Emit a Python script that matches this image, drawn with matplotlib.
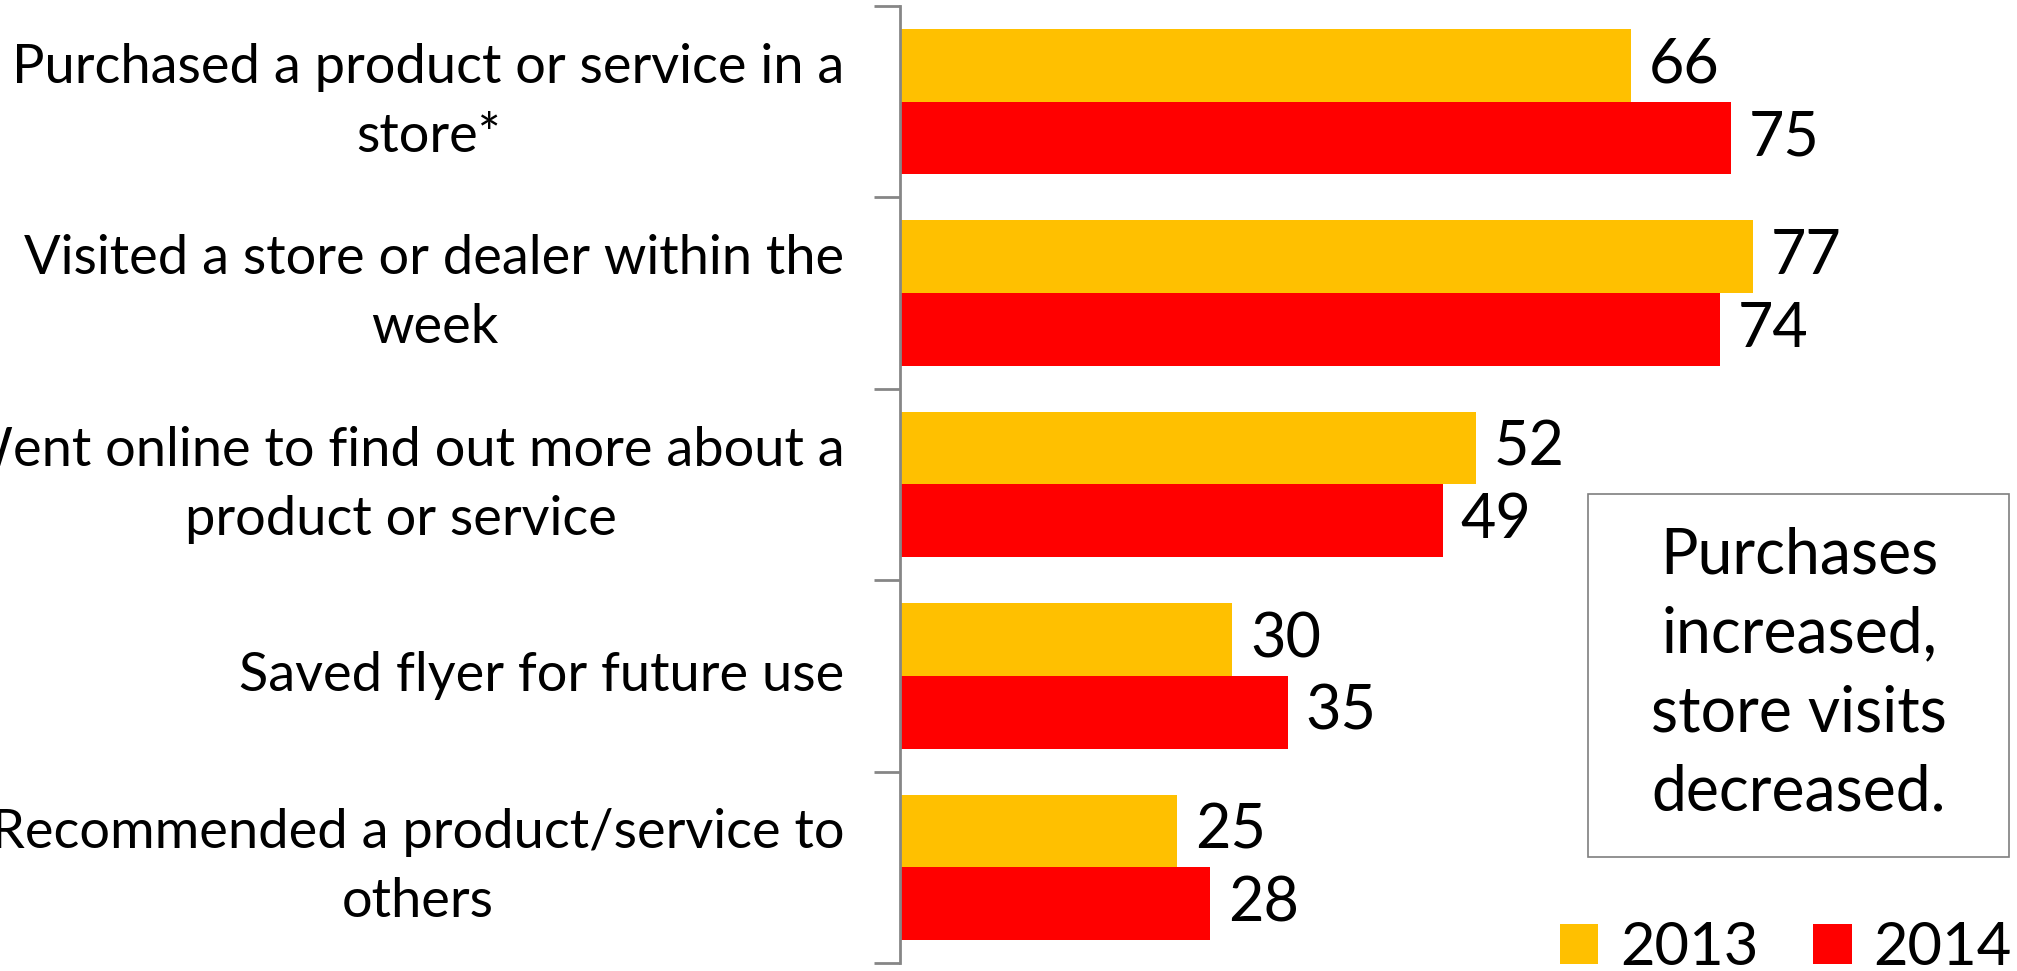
import matplotlib.pyplot as plt
from matplotlib.patches import Rectangle
import numpy as np

# survey results, percent of respondents
categories = [
    "Purchased a product or service in a\nstore*",
    "Visited a store or dealer within the\nweek",
    "Went online to find out more about a\nproduct or service",
    "Saved flyer for future use",
    "Recommended a product/service to\nothers",
]
values_2013 = [66, 77, 52, 30, 25]
values_2014 = [75, 74, 49, 35, 28]
years = ["2013", "2014"]
colors = ["#FFC000", "#FF0000"]

plt.rcParams['font.family'] = ['Lato', 'DejaVu Sans']

W, H = 2017, 971
fig = plt.figure(figsize=(W / 100, H / 100), dpi=100)
ax = fig.add_axes([900 / W, 1 - 963 / H, (2008 - 900) / W, (963 - 6) / H])

y = np.arange(len(categories))
bh = 0.38
bars13 = ax.barh(y - bh / 2, values_2013, height=bh, color=colors[0], label=years[0])
bars14 = ax.barh(y + bh / 2, values_2014, height=bh, color=colors[1], label=years[1])

for bars, vals in [(bars13, values_2013), (bars14, values_2014)]:
    for b, v in zip(bars, vals):
        ax.text(v + 1.6, b.get_y() + b.get_height() / 2, str(v),
                ha='left', va='center', fontsize=44, color='black')

ax.set_xlim(0, 100)
ax.set_ylim(len(categories) - 0.5, -0.5)

# boundary ticks on the axis, labels centred between them
ax.set_yticks(np.arange(len(categories) + 1) - 0.5)
ax.set_yticklabels([])
ax.tick_params(axis='y', which='major', length=19, width=2, color='#868686', direction='out')
ax.set_yticks(y, categories, minor=True)
ax.tick_params(axis='y', which='minor', length=0, pad=40, labelsize=39)
for t in ax.get_yticklabels(minor=True):
    t.set_multialignment('center')
    t.set_linespacing(1.5)
    t.set_verticalalignment('center')

ax.set_xticks([])
for s in ['top', 'right', 'bottom']:
    ax.spines[s].set_visible(False)
ax.spines['left'].set_color('#868686')
ax.spines['left'].set_linewidth(2)

# callout box
fig.patches.append(Rectangle((1588 / W, 1 - 857 / H), (2009 - 1588) / W, (857 - 494) / H,
                             transform=fig.transFigure, fill=False,
                             edgecolor='#7f7f7f', linewidth=1.2))
fig.text(1799 / W, 1 - 674 / H, "Purchases\nincreased,\nstore visits\ndecreased.",
         ha='center', va='center', fontsize=45, linespacing=1.45)

fig.legend(handles=[bars13, bars14], loc='lower right',
           bbox_to_anchor=(2012 / W, -4 / H), ncol=2, frameon=False,
           fontsize=43, handlelength=0.65, handleheight=0.65,
           handletextpad=0.37, columnspacing=0.9, borderpad=0, borderaxespad=0)

fig.savefig('out.png', dpi=100)
